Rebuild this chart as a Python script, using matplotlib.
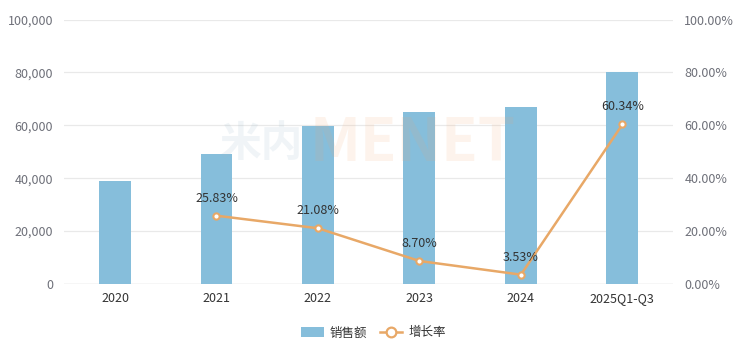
import matplotlib
matplotlib.use("Agg")
import matplotlib.pyplot as plt
from matplotlib.ticker import FuncFormatter, MultipleLocator
from matplotlib.lines import Line2D
from matplotlib.patches import Patch

plt.rcParams['font.family'] = ['Noto Sans CJK SC', 'DejaVu Sans']

categories = ["2020", "2021", "2022", "2023", "2024", "2025Q1-Q3"]
sales = [39100, 49000, 59800, 64900, 67100, 80100]
growth_cats = ["2021", "2022", "2023", "2024", "2025Q1-Q3"]
growth = [25.83, 21.08, 8.70, 3.53, 60.34]

bar_color = "#86BEDB"
line_color = "#E8A867"
tick_color = "#6E7079"

fig = plt.figure(figsize=(7.43, 3.53), dpi=100)
ax = fig.add_axes([0.0865, 0.1955, 0.8195, 0.749])
x = list(range(len(categories)))
ax.bar(x, sales, width=0.315, color=bar_color, zorder=2)
ax.set_xlim(-0.5, len(categories) - 0.5)
ax.set_ylim(0, 100000)
ax.yaxis.set_major_locator(MultipleLocator(20000))
ax.yaxis.set_major_formatter(FuncFormatter(lambda v, p: f"{int(v):,}"))
ax.set_xticks(x)
ax.set_xticklabels(categories)
ax.grid(axis='y', color="#E9E9E9", lw=0.9, zorder=0)
for s in ax.spines.values():
    s.set_visible(False)
ax.axhline(0, color="#E0E0E0", lw=1, zorder=1)
ax.tick_params(axis='y', length=0, pad=8, labelsize=9, labelcolor=tick_color)
ax.tick_params(axis='x', length=0, pad=6, labelsize=9, labelcolor="#333333")

ax2 = ax.twinx()
ax2.set_ylim(0, 100)
ax2.yaxis.set_major_locator(MultipleLocator(20))
ax2.yaxis.set_major_formatter(FuncFormatter(lambda v, p: f"{v:.2f}%"))
for s in ax2.spines.values():
    s.set_visible(False)
ax2.tick_params(axis='y', length=0, pad=8, labelsize=9, labelcolor=tick_color)
gx = [categories.index(c) for c in growth_cats]
ax2.plot(gx, growth, color=line_color, lw=1.8, marker='o', ms=4.5,
         mfc='white', mec=line_color, mew=1.5, zorder=3)
for xi, g in zip(gx, growth):
    ax2.annotate(f"{g:.2f}%", (xi, g), xytext=(0, 8), textcoords='offset points',
                 ha='center', va='bottom', fontsize=9, color="#333333")

# watermark
fig.text(0.296, 0.592, "米内", fontsize=30, fontweight='bold', color="#9DB9CC",
         alpha=0.15, ha='left', va='center')
fig.text(0.417, 0.592, "MENET", fontsize=43, fontweight='bold', color="#F2A46A",
         alpha=0.12, ha='left', va='center')

# legend
handles = [Patch(facecolor=bar_color, edgecolor='none'),
           Line2D([0], [0], color=line_color, lw=1.8, marker='o', ms=7,
                  mfc='white', mec=line_color, mew=1.6)]
fig.legend(handles, ["销售额", "增长率"], loc='center', bbox_to_anchor=(0.503, 0.057),
           ncol=2, frameon=False, fontsize=9, handlelength=1.8, handleheight=0.9,
           columnspacing=1.0, handletextpad=0.5, labelcolor="#333333")

fig.savefig("out.png", dpi=100)
